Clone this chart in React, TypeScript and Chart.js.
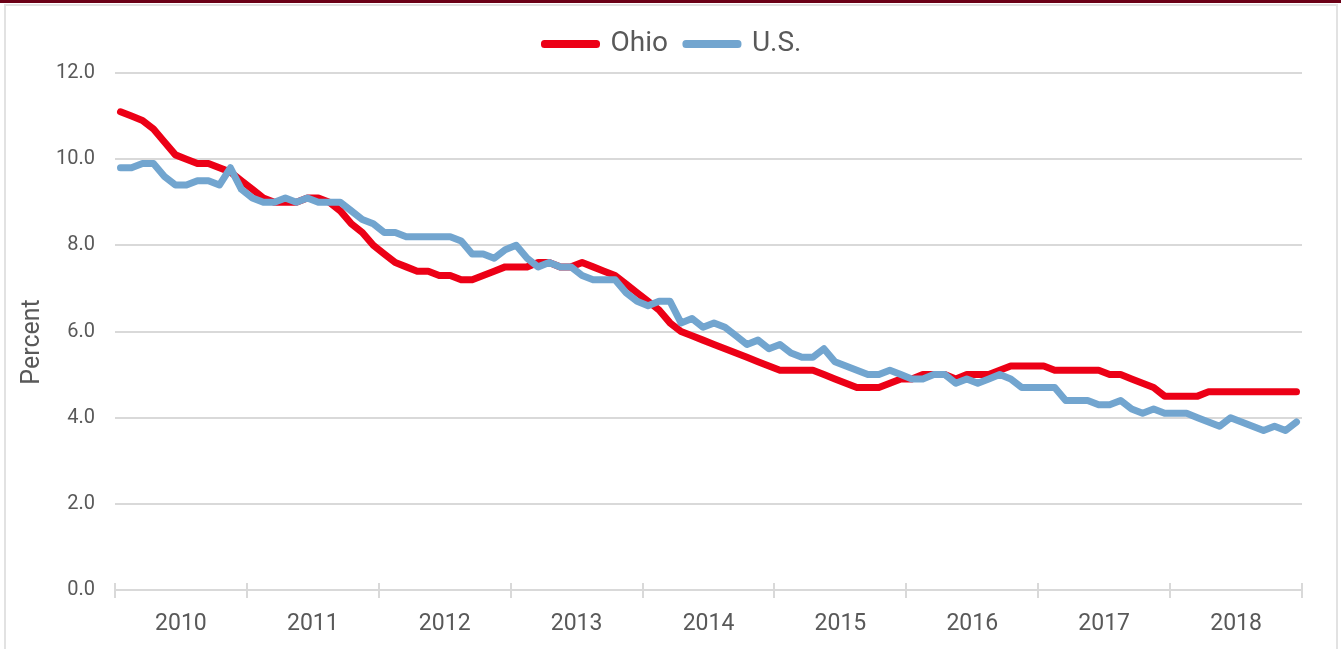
import React, { useEffect, useRef } from "react";
import { Chart, registerables } from "chart.js";

Chart.register(...registerables);

const years = ["2010", "2011", "2012", "2013", "2014", "2015", "2016", "2017", "2018"];
const yTicks = [0, 2, 4, 6, 8, 10, 12];
const yTitle = "Percent";

const ohio = [
  11.1, 11.0, 10.9, 10.7, 10.4, 10.1, 10.0, 9.9, 9.9, 9.8, 9.7, 9.5,
  9.3, 9.1, 9.0, 9.0, 9.0, 9.1, 9.1, 9.0, 8.8, 8.5, 8.3, 8.0,
  7.8, 7.6, 7.5, 7.4, 7.4, 7.3, 7.3, 7.2, 7.2, 7.3, 7.4, 7.5,
  7.5, 7.5, 7.6, 7.6, 7.5, 7.5, 7.6, 7.5, 7.4, 7.3, 7.1, 6.9,
  6.7, 6.5, 6.2, 6.0, 5.9, 5.8, 5.7, 5.6, 5.5, 5.4, 5.3, 5.2,
  5.1, 5.1, 5.1, 5.1, 5.0, 4.9, 4.8, 4.7, 4.7, 4.7, 4.8, 4.9,
  4.9, 5.0, 5.0, 5.0, 4.9, 5.0, 5.0, 5.0, 5.1, 5.2, 5.2, 5.2,
  5.2, 5.1, 5.1, 5.1, 5.1, 5.1, 5.0, 5.0, 4.9, 4.8, 4.7, 4.5,
  4.5, 4.5, 4.5, 4.6, 4.6, 4.6, 4.6, 4.6, 4.6, 4.6, 4.6, 4.6,
];

const us = [
  9.8, 9.8, 9.9, 9.9, 9.6, 9.4, 9.4, 9.5, 9.5, 9.4, 9.8, 9.3,
  9.1, 9.0, 9.0, 9.1, 9.0, 9.1, 9.0, 9.0, 9.0, 8.8, 8.6, 8.5,
  8.3, 8.3, 8.2, 8.2, 8.2, 8.2, 8.2, 8.1, 7.8, 7.8, 7.7, 7.9,
  8.0, 7.7, 7.5, 7.6, 7.5, 7.5, 7.3, 7.2, 7.2, 7.2, 6.9, 6.7,
  6.6, 6.7, 6.7, 6.2, 6.3, 6.1, 6.2, 6.1, 5.9, 5.7, 5.8, 5.6,
  5.7, 5.5, 5.4, 5.4, 5.6, 5.3, 5.2, 5.1, 5.0, 5.0, 5.1, 5.0,
  4.9, 4.9, 5.0, 5.0, 4.8, 4.9, 4.8, 4.9, 5.0, 4.9, 4.7, 4.7,
  4.7, 4.7, 4.4, 4.4, 4.4, 4.3, 4.3, 4.4, 4.2, 4.1, 4.2, 4.1,
  4.1, 4.1, 4.0, 3.9, 3.8, 4.0, 3.9, 3.8, 3.7, 3.8, 3.7, 3.9,
];

const OHIO_COLOR = "#ec0016";
const US_COLOR = "#72a5cf";
const GRID = "#d9d9d9";
const TEXT = "#595959";
const MONTHS = 12;

const yearTickPlugin = {
  id: "yearTicks",
  beforeDatasetsDraw(chart: any) {
    const x = chart.scales.x;
    const { bottom } = chart.chartArea;
    const ctx = chart.ctx;
    ctx.save();
    ctx.strokeStyle = GRID;
    ctx.lineWidth = 2;
    for (let m = 0; m <= years.length * MONTHS; m += MONTHS) {
      const px = Math.round(x.getPixelForValue(m));
      ctx.beginPath();
      ctx.moveTo(px, bottom - 7);
      ctx.lineTo(px, bottom + 8);
      ctx.stroke();
    }
    ctx.restore();
  },
};

const yTitlePlugin = {
  id: "yTitle",
  afterDraw(chart: any) {
    const { top, bottom } = chart.chartArea;
    const ctx = chart.ctx;
    ctx.save();
    ctx.translate(33, (top + bottom) / 2 + 13);
    ctx.rotate(-Math.PI / 2);
    ctx.fillStyle = TEXT;
    ctx.font = "25px Roboto, sans-serif";
    ctx.textAlign = "center";
    ctx.textBaseline = "middle";
    ctx.fillText(yTitle, 0, 0);
    ctx.restore();
  },
};

const legendShiftPlugin = {
  id: "legendShift",
  afterLayout(chart: any) {
    const l = chart.legend;
    if (l) {
      l.left += 22;
      l.right += 22;
    }
  },
};

export default function App() {
  const ref = useRef<HTMLCanvasElement | null>(null);

  useEffect(() => {
    if (!ref.current) return;
    const total = years.length * MONTHS;
    const chart = new Chart(ref.current, {
      type: "line",
      data: {
        datasets: [
          {
            label: "Ohio",
            data: ohio.map((v, i) => ({ x: i + 0.5, y: v })),
            borderColor: OHIO_COLOR,
            backgroundColor: OHIO_COLOR,
            borderWidth: 7,
            borderJoinStyle: "round",
            borderCapStyle: "round",
            pointRadius: 0,
            tension: 0,
            order: 1,
          },
          {
            label: "U.S.",
            data: us.map((v, i) => ({ x: i + 0.5, y: v })),
            borderColor: US_COLOR,
            backgroundColor: US_COLOR,
            borderWidth: 7,
            borderJoinStyle: "round",
            borderCapStyle: "round",
            pointRadius: 0,
            tension: 0,
            order: 0,
          },
        ],
      },
      options: {
        animation: false,
        responsive: true,
        maintainAspectRatio: false,
        layout: { padding: { top: 12, left: 0, right: 39, bottom: 0 } },
        plugins: {
          legend: {
            display: true,
            position: "top",
            labels: {
              boxWidth: 52,
              boxHeight: 1,
              padding: 18,
              color: TEXT,
              font: { family: "Roboto, sans-serif", size: 28 },
              sort: (a: any, b: any) => a.datasetIndex - b.datasetIndex,
            },
          },
          tooltip: { enabled: false },
        },
        scales: {
          x: {
            type: "linear",
            min: 0,
            max: total,
            afterBuildTicks: (scale: any) => {
              scale.ticks = years.map((_, i) => ({ value: i * MONTHS + MONTHS / 2 }));
            },
            afterFit: (scale: any) => {
              scale.height = 59;
            },
            ticks: {
              autoSkip: false,
              maxRotation: 0,
              padding: 20,
              color: TEXT,
              font: { family: "Roboto, sans-serif", size: 23 },
              callback: (v: any) => years[Math.floor(Number(v) / MONTHS)],
            },
            grid: { display: false, drawTicks: false },
            border: { display: true, color: GRID, width: 2 },
          },
          y: {
            type: "linear",
            min: 0,
            max: 12 + 5 / 43,
            afterBuildTicks: (scale: any) => {
              scale.ticks = yTicks.map((v) => ({ value: v }));
            },
            afterFit: (scale: any) => {
              scale.width = 115;
            },
            ticks: {
              padding: 20,
              color: TEXT,
              font: { family: "Roboto, sans-serif", size: 20 },
              callback: (v: any) => Number(v).toFixed(1),
            },
            grid: { color: GRID, lineWidth: 2, drawTicks: false },
            border: { display: false },
          },
        },
      },
      plugins: [yearTickPlugin, legendShiftPlugin, yTitlePlugin],
    });
    return () => chart.destroy();
  }, []);

  return (
    <div
      style={{
        position: "fixed",
        left: 0,
        top: 0,
        width: 1341,
        height: 649,
        background: "#ffffff",
        overflow: "hidden",
      }}
    >
      <div style={{ position: "absolute", left: 0, top: 0, width: 1341, height: 3, background: "#6b0016" }} />
      <div
        style={{
          position: "absolute",
          left: 4,
          top: 4,
          width: 1334,
          height: 680,
          border: "2px solid #e2e2e2",
          boxSizing: "border-box",
        }}
      />
      <div style={{ position: "absolute", left: 0, top: 0, width: 1341, height: 649 }}>
        <canvas ref={ref} />
      </div>
    </div>
  );
}
